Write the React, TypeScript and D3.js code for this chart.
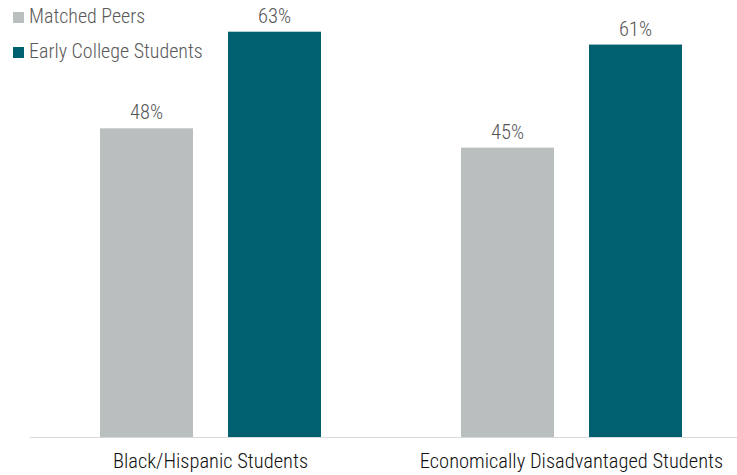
import React from "react";
import * as d3 from "d3";

const categories = ["Black/Hispanic Students", "Economically Disadvantaged Students"];
const seriesNames = ["Matched Peers", "Early College Students"];
const matchedPeers = [48, 45];
const earlyCollege = [63, 61];
const colors = ["#b9bfbe", "#00606f"];

const W = 737;
const H = 475;
const FONT = "'Liberation Sans Narrow', 'Roboto Condensed', 'Arial Narrow', Roboto, sans-serif";

export default function App() {
  const values = [matchedPeers, earlyCollege];
  const rows = categories.map((c, i) => ({
    category: c,
    vals: seriesNames.map((s, j) => ({ series: s, value: values[j][i], color: colors[j] })),
  }));

  const baseline = 437.5;
  const y = d3.scaleLinear().domain([0, 63]).range([baseline, 31.7]);
  const x0 = d3.scaleBand<string>().domain(categories).range([30, 752]).paddingInner(0).paddingOuter(0);
  const x1 = d3
    .scaleBand<string>()
    .domain(seriesNames)
    .range([-110.5, 110.5])
    .paddingInner(35 / 128)
    .paddingOuter(0);

  return (
    <svg width={W} height={H} style={{ position: "absolute", left: 0, top: 0, display: "block" }}>
      <rect width={W} height={H} fill="#ffffff" />
      {rows.map((r) => {
        const cx = (x0(r.category) ?? 0) + x0.bandwidth() / 2;
        return (
          <g key={r.category}>
            {r.vals.map((v) => {
              const bx = cx + (x1(v.series) ?? 0);
              return (
                <g key={v.series}>
                  <rect x={bx} y={y(v.value)} width={x1.bandwidth()} height={baseline - y(v.value)} fill={v.color} />
                  <text
                    x={bx + x1.bandwidth() / 2}
                    y={y(v.value) - 9}
                    textAnchor="middle"
                    fontFamily={FONT}
                    fontSize={20.5}
                    fontWeight={300}
                    fill="#555555"
                  >
                    {v.value}%
                  </text>
                </g>
              );
            })}
            <text x={cx} y={468} textAnchor="middle" fontFamily={FONT} fontSize={20.5} fontWeight={300} fill="#111111">
              {r.category}
            </text>
          </g>
        );
      })}
      <line x1={30} x2={W} y1={baseline} y2={baseline} stroke="#d9d9d9" strokeWidth={1} />
      {seriesNames.map((s, i) => (
        <g key={s} transform={`translate(13, ${12 + i * 35})`}>
          <rect width={11} height={11} fill={colors[i]} />
          <text x={16} y={11} fontFamily={FONT} fontSize={20} fontWeight={300} fill="#595959">
            {s}
          </text>
        </g>
      ))}
    </svg>
  );
}
